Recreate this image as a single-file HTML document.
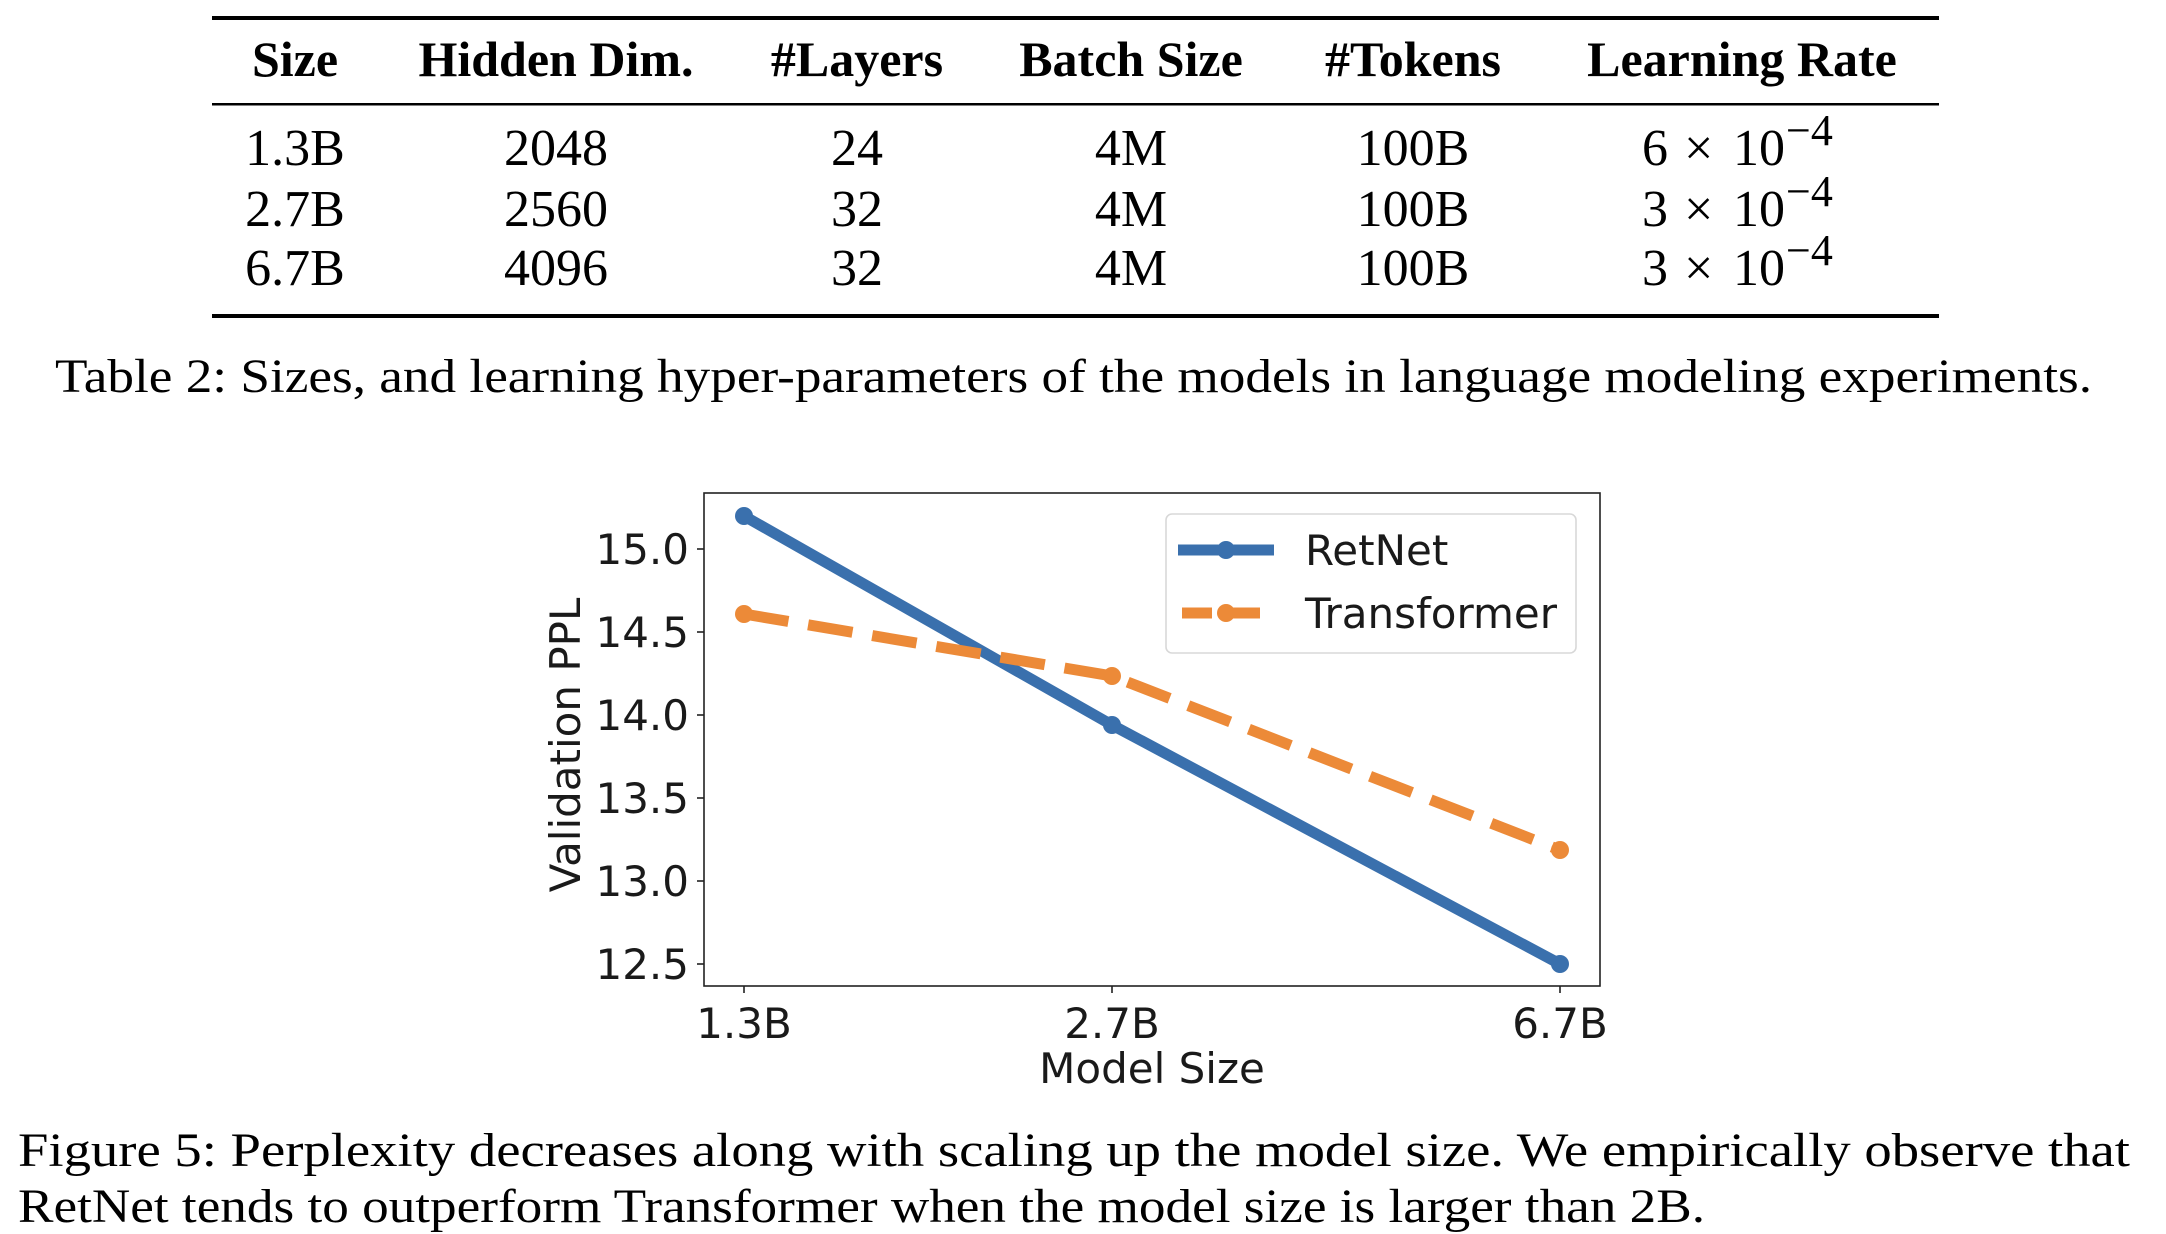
<!DOCTYPE html>
<html><head><meta charset="utf-8"><style>
html,body{margin:0;padding:0;background:#fff;}
svg{display:block;}
.s{font-family:"Liberation Serif",serif;fill:#000;}
.d{font-family:"DejaVu Sans",sans-serif;fill:#1a1a1a;}
</style></head><body>
<svg width="2166" height="1234" viewBox="0 0 2166 1234" xmlns="http://www.w3.org/2000/svg">
<rect width="2166" height="1234" fill="#fff"/>
<rect x="212" y="16" width="1727" height="4" fill="#000"/>
<rect x="212" y="103" width="1727" height="2.5" fill="#000"/>
<rect x="212" y="314" width="1727" height="4" fill="#000"/>
<g class="s" font-size="50" font-weight="bold" text-anchor="middle">
<text x="295" y="76">Size</text>
<text x="556" y="76">Hidden Dim.</text>
<text x="857" y="76">#Layers</text>
<text x="1131" y="76">Batch Size</text>
<text x="1413" y="76">#Tokens</text>
<text x="1742" y="76">Learning Rate</text>
</g>
<g class="s" font-size="52" text-anchor="middle">
<text x="295" y="165">1.3B</text><text x="556" y="165">2048</text><text x="857" y="165">24</text><text x="1131" y="165">4M</text><text x="1413" y="165">100B</text>
<text x="295" y="226">2.7B</text><text x="556" y="226">2560</text><text x="857" y="226">32</text><text x="1131" y="226">4M</text><text x="1413" y="226">100B</text>
<text x="295" y="285">6.7B</text><text x="556" y="285">4096</text><text x="857" y="285">32</text><text x="1131" y="285">4M</text><text x="1413" y="285">100B</text>
</g>
<g class="s" font-size="52">
<text x="1642" y="165">6</text><text x="1684" y="165">×</text><text x="1733" y="165">10</text><text x="1786" y="145" font-size="44">−4</text>
<text x="1642" y="226">3</text><text x="1684" y="226">×</text><text x="1733" y="226">10</text><text x="1786" y="206" font-size="44">−4</text>
<text x="1642" y="285">3</text><text x="1684" y="285">×</text><text x="1733" y="285">10</text><text x="1786" y="265" font-size="44">−4</text>
</g>
<text class="s" x="55" y="392" font-size="48" textLength="2037" lengthAdjust="spacingAndGlyphs">Table 2: Sizes, and learning hyper-parameters of the models in language modeling experiments.</text>

<rect x="704" y="493" width="896" height="493" fill="none" stroke="#222" stroke-width="1.6"/>
<g stroke="#222" stroke-width="1.6">
<line x1="697" y1="549" x2="704" y2="549"/>
<line x1="697" y1="632" x2="704" y2="632"/>
<line x1="697" y1="715" x2="704" y2="715"/>
<line x1="697" y1="798" x2="704" y2="798"/>
<line x1="697" y1="881" x2="704" y2="881"/>
<line x1="697" y1="964" x2="704" y2="964"/>
<line x1="744" y1="986" x2="744" y2="993"/>
<line x1="1112" y1="986" x2="1112" y2="993"/>
<line x1="1560" y1="986" x2="1560" y2="993"/>
</g>
<g class="d" font-size="42" text-anchor="end">
<text x="689" y="564">15.0</text>
<text x="689" y="647">14.5</text>
<text x="689" y="730">14.0</text>
<text x="689" y="813">13.5</text>
<text x="689" y="896">13.0</text>
<text x="689" y="979">12.5</text>
</g>
<g class="d" font-size="42" text-anchor="middle">
<text x="744" y="1038">1.3B</text>
<text x="1112" y="1038">2.7B</text>
<text x="1560" y="1038">6.7B</text>
<text x="1152" y="1083">Model Size</text>
</g>
<text class="d" font-size="42" text-anchor="middle" transform="translate(580,745) rotate(-90)">Validation PPL</text>

<polyline points="744,516 1112,725 1560,964" fill="none" stroke="#3a70ad" stroke-width="11" stroke-linejoin="round"/>
<g fill="#3a70ad"><circle cx="744" cy="516" r="9"/><circle cx="1112" cy="725" r="9"/><circle cx="1560" cy="964" r="9"/></g>
<polyline points="744,614 1112,676 1560,850" fill="none" stroke="#ec8a38" stroke-width="11" stroke-dasharray="45 20"/>
<g fill="#ec8a38"><circle cx="744" cy="614" r="9"/><circle cx="1112" cy="676" r="9"/><circle cx="1560" cy="850" r="9"/></g>

<rect x="1166" y="514" width="410" height="139" rx="6" fill="#fff" stroke="#d8d8d8" stroke-width="1.6"/>
<line x1="1178" y1="550" x2="1274" y2="550" stroke="#3a70ad" stroke-width="11"/>
<circle cx="1226" cy="550" r="9" fill="#3a70ad"/>
<line x1="1178" y1="613" x2="1274" y2="613" stroke="#ec8a38" stroke-width="11" stroke-dasharray="30 18" stroke-dashoffset="-4"/>
<circle cx="1226" cy="613" r="9" fill="#ec8a38"/>
<g class="d" font-size="42">
<text x="1305" y="565">RetNet</text>
<text x="1305" y="628">Transformer</text>
</g>

<text class="s" x="18" y="1166" font-size="48" textLength="2112" lengthAdjust="spacingAndGlyphs">Figure 5: Perplexity decreases along with scaling up the model size. We empirically observe that</text>
<text class="s" x="18" y="1222" font-size="48" textLength="1687" lengthAdjust="spacingAndGlyphs">RetNet tends to outperform Transformer when the model size is larger than 2B.</text>
</svg>
</body></html>
